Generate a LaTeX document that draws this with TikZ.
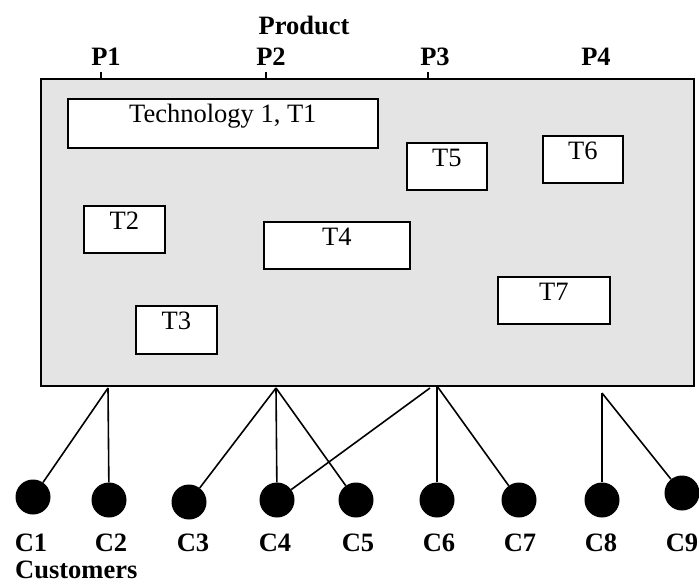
\documentclass[tikz,border=0pt]{standalone}
\usepackage{fontspec}
\setmainfont{Liberation Serif}
\definecolor{pbg}{RGB}{228,228,228}
\begin{document}
\begin{tikzpicture}[x=1pt,y=-1pt,
  reg/.style={font=\fontsize{26.5}{30}\selectfont},
  bld/.style={font=\fontsize{26.5}{30}\selectfont\bfseries},
  mainbox/.style={draw, fill=pbg, line width=1.6pt, inner sep=0pt, anchor=north west},
  tbox/.style={draw, fill=white, line width=1.6pt, inner sep=0pt, anchor=north west,
    text height=23.5pt, text depth=23.5pt, reg},
  cust/.style={circle, fill=black, minimum size=35pt, inner sep=0pt},
  conn/.style={line width=1.6pt},
  tick/.style={line width=1.4pt}]
\useasboundingbox (0,0) rectangle (699,586);

% product box
\node[mainbox, minimum width=653pt, minimum height=307pt] (prod) at (40,78) {};

% product labels
\node[bld, anchor=base] (product) at (304,35) {Product};
\node[bld, anchor=base] (p1) at (106,66) {P1};
\node[bld, anchor=base] (p2) at (271,66) {P2};
\node[bld, anchor=base] (p3) at (435,66) {P3};
\node[bld, anchor=base] (p4) at (596,66) {P4};
\coordinate (tk1) at (101,72);
\coordinate (tk2) at (266,72);
\coordinate (tk3) at (428,72);
\draw[tick] (tk1) -- (tk1 |- prod.north);
\draw[tick] (tk2) -- (tk2 |- prod.north);
\draw[tick] (tk3) -- (tk3 |- prod.north);

% technologies
\node[tbox, minimum width=310pt, text depth=25.5pt] (t1) at (67,98) {Technology 1, T1};
\node[tbox, minimum width=81pt] (t2) at (83,205) {T2};
\node[tbox, minimum width=81pt, text depth=24.5pt] (t3) at (135,305) {T3};
\node[tbox, minimum width=146pt] (t4) at (263,221) {T4};
\node[tbox, minimum width=80pt] (t5) at (406,142) {T5};
\node[tbox, minimum width=80pt] (t6) at (542,135) {T6};
\node[tbox, minimum width=112pt] (t7) at (497,276) {T7};

% customers
\node[cust] (c1) at (33,497) {};
\node[cust] (c2) at (109,500) {};
\node[cust] (c3) at (189,502) {};
\node[cust] (c4) at (277,500) {};
\node[cust] (c5) at (356,500) {};
\node[cust] (c6) at (437,500) {};
\node[cust] (c7) at (519,500) {};
\node[cust] (c8) at (602,500) {};
\node[cust] (c9) at (682,493) {};

\node[bld, anchor=base] (l1) at (31,551) {C1};
\node[bld, anchor=base] (l2) at (111,551) {C2};
\node[bld, anchor=base] (l3) at (193,551) {C3};
\node[bld, anchor=base] (l4) at (275,551) {C4};
\node[bld, anchor=base] (l5) at (358,551) {C5};
\node[bld, anchor=base] (l6) at (439,551) {C6};
\node[bld, anchor=base] (l7) at (520,551) {C7};
\node[bld, anchor=base] (l8) at (601,551) {C8};
\node[bld, anchor=base] (l9) at (682,551) {C9};
\node[bld, anchor=base west, inner sep=0pt] (customers) at (15,578) {Customers};

% hubs
\coordinate (h1) at (108,388);
\coordinate (h2) at (276,388);
\coordinate (h3) at (437,386);
\coordinate (h3a) at (430,388);
\coordinate (h4) at (602,393);

% connectors
\draw[conn] (h1) -- (c1);
\draw[conn] (h1) -- (c2);
\draw[conn] (h2) -- (c3);
\draw[conn] (h2) -- (c4);
\draw[conn] (h2) -- (c5);
\draw[conn] (h3a) -- (c4);
\draw[conn] (h3) -- (c6);
\draw[conn] (h3) -- (c7);
\draw[conn] (h4) -- (c8);
\draw[conn] (h4) -- (c9);
\end{tikzpicture}
\end{document}
